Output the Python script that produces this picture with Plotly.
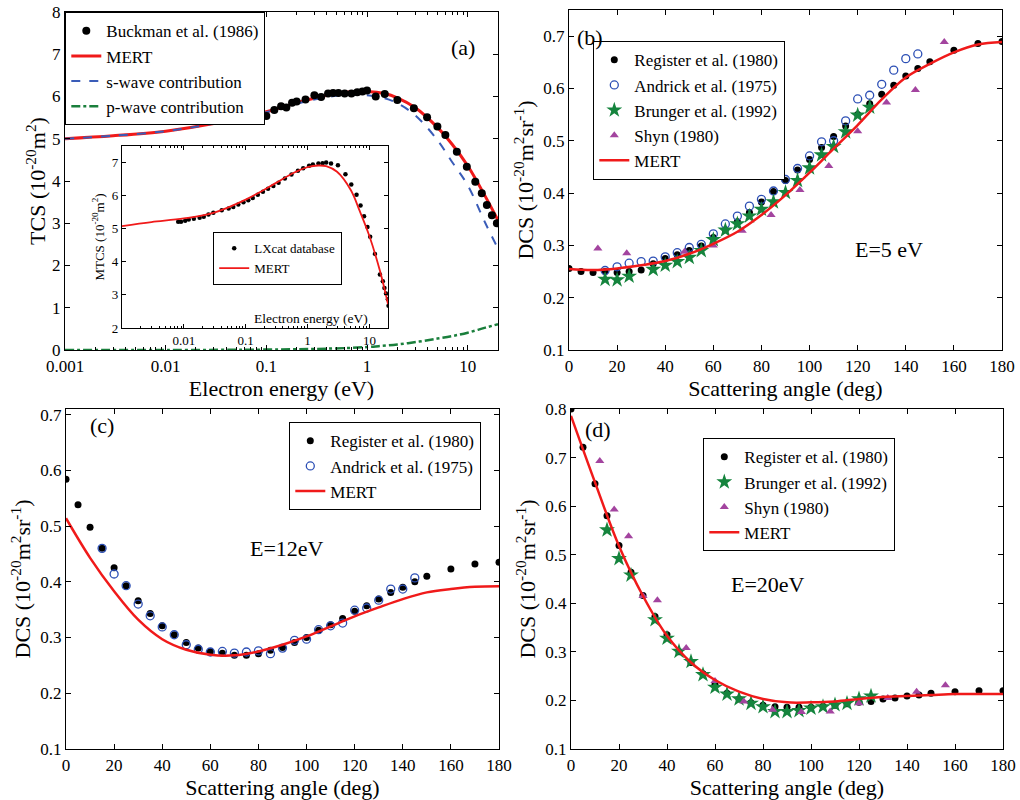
import plotly.graph_objects as go

# ---------------- Data ----------------
# (a) main: total cross section
buckman_E = [0.1, 0.12, 0.14, 0.158, 0.18, 0.2, 0.245, 0.30, 0.35, 0.41, 0.46, 0.52, 0.6, 0.7, 0.8, 0.9, 1.0,
             1.22, 1.5, 2.0, 2.92, 3.95, 5.0, 6.0, 7.8, 9.8, 11.9, 13.8, 15.5, 17.4, 19.5]
buckman_tcs = [5.54, 5.68, 5.77, 5.74, 5.85, 5.88, 5.93, 6.03, 5.99, 6.07, 6.08, 6.08, 6.07, 6.07, 6.1, 6.12, 6.14,
               6.0, 6.06, 5.92, 5.72, 5.51, 5.29, 5.09, 4.69, 4.34, 3.98, 3.71, 3.43, 3.19, 3.0]
curve_E = [0.001, 0.003, 0.01, 0.03, 0.1, 0.2, 0.3, 0.5, 0.7, 1.0, 1.5, 2, 3, 5, 7, 10, 15, 20]
mert_tcs = [5.0, 5.07, 5.18, 5.36, 5.64, 5.85, 5.96, 6.07, 6.11, 6.12, 6.07, 5.97, 5.74, 5.27, 4.87, 4.36, 3.63, 3.07]
swave_tcs = [5.0, 5.07, 5.18, 5.36, 5.63, 5.83, 5.93, 6.02, 6.04, 6.03, 5.96, 5.84, 5.56, 4.97, 4.45, 3.9, 3.0, 2.4]
pwave_E = [0.001, 0.01, 0.1, 0.3, 0.6, 1, 1.3, 2, 3.3, 5, 7, 10, 15, 20]
pwave_tcs = [0.0, 0.0, 0.01, 0.025, 0.045, 0.07, 0.09, 0.13, 0.2, 0.27, 0.33, 0.41, 0.53, 0.61]

# (a) inset: momentum transfer cross section
lx_E = [0.0081, 0.009, 0.0105, 0.012, 0.0145, 0.018, 0.021, 0.025, 0.030, 0.041, 0.053, 0.063, 0.076, 0.092,
        0.11, 0.13, 0.157, 0.19, 0.23, 0.28, 0.34, 0.43, 0.55, 0.7, 0.85, 1.06, 1.22, 1.5, 1.75, 2.0, 2.4,
        3.1, 4.1, 5.1, 6.2, 7.2, 8.2, 9.3, 10.3, 12.3, 14.8, 16.5, 17.5, 18.6, 19.9, 20.4]
lx_mtcs = [5.21, 5.21, 5.24, 5.28, 5.3, 5.33, 5.36, 5.43, 5.48, 5.56, 5.61, 5.66, 5.73, 5.8, 5.86, 5.93, 6.03,
           6.12, 6.21, 6.29, 6.39, 6.52, 6.64, 6.75, 6.83, 6.9, 6.94, 6.97, 6.98, 7.0, 6.97, 6.92, 6.65,
           6.34, 6.03, 5.7, 5.38, 5.05, 4.76, 4.24, 3.62, 3.41, 3.21, 3.04, 2.87, 2.67]
inset_E = [0.001, 0.003, 0.01, 0.03, 0.1, 0.3, 0.6, 1, 1.5, 2, 3, 5, 7, 10, 15, 20]
inset_mert = [5.08, 5.2, 5.31, 5.48, 5.88, 6.37, 6.69, 6.86, 6.91, 6.89, 6.72, 6.17, 5.53, 4.78, 3.69, 2.72]

# (b) E = 5 eV
b_reg_ang = [0, 5, 10, 15, 20, 25, 30, 35, 40, 45, 50, 55, 60, 65, 70, 75, 80, 85, 90, 95, 100, 105, 110,
             115, 120, 125, 130, 135, 140, 145, 150, 160, 170, 180]
b_reg = [0.256, 0.250, 0.248, 0.250, 0.248, 0.250, 0.253, 0.265, 0.275, 0.282, 0.290, 0.299, 0.315, 0.330,
         0.345, 0.363, 0.383, 0.403, 0.424, 0.444, 0.464, 0.487, 0.508, 0.528, 0.550, 0.571, 0.589, 0.606,
         0.624, 0.638, 0.651, 0.673, 0.686, 0.690]
b_and_ang = [15, 20, 25, 30, 35, 40, 45, 50, 55, 60, 65, 70, 75, 80, 85, 90, 95, 100, 105, 110, 115, 120,
             125, 130, 135, 140, 145]
b_and = [0.252, 0.259, 0.266, 0.269, 0.270, 0.278, 0.286, 0.296, 0.302, 0.322, 0.341, 0.356, 0.375, 0.388,
         0.404, 0.426, 0.447, 0.471, 0.498, 0.500, 0.538, 0.580, 0.587, 0.608, 0.635, 0.657, 0.666]
b_bru_ang = [15, 20, 25, 35, 40, 45, 50, 55, 60, 65, 70, 75, 80, 85, 90, 95, 100, 105, 110, 115, 120, 125]
b_bru = [0.235, 0.234, 0.241, 0.254, 0.262, 0.269, 0.277, 0.290, 0.311, 0.329, 0.341, 0.356, 0.369, 0.383,
         0.401, 0.424, 0.448, 0.473, 0.489, 0.517, 0.549, 0.564]
b_shyn_ang = [12, 24, 48, 60, 72, 84, 96, 108, 120, 132, 144, 156]
b_shyn = [0.294, 0.285, 0.288, 0.300, 0.328, 0.358, 0.406, 0.452, 0.518, 0.573, 0.597, 0.689]
b_mert_ang = [0, 10, 20, 30, 40, 50, 60, 70, 80, 90, 100, 110, 120, 130, 140, 150, 160, 170, 180]
b_mert = [0.255, 0.253, 0.256, 0.262, 0.270, 0.284, 0.303, 0.326, 0.358, 0.396, 0.439, 0.485, 0.530, 0.579,
          0.621, 0.647, 0.669, 0.684, 0.689]

# (c) E = 12 eV
c_reg_ang = [0, 5, 10, 15, 20, 25, 30, 35, 40, 45, 50, 55, 60, 65, 70, 75, 80, 85, 90, 95, 100, 105, 110,
             115, 120, 125, 130, 135, 140, 145, 150, 160, 170, 180]
c_reg = [0.584, 0.538, 0.498, 0.460, 0.425, 0.393, 0.366, 0.343, 0.321, 0.305, 0.291, 0.281, 0.275, 0.272,
         0.268, 0.268, 0.271, 0.277, 0.282, 0.291, 0.300, 0.313, 0.323, 0.334, 0.347, 0.357, 0.369, 0.381,
         0.390, 0.400, 0.410, 0.423, 0.432, 0.435]
c_and_ang = [15, 20, 25, 30, 35, 40, 45, 50, 55, 60, 65, 70, 75, 80, 85, 90, 95, 100, 105, 110, 115, 120,
             125, 130, 135, 140, 145]
c_and = [0.460, 0.414, 0.393, 0.360, 0.339, 0.319, 0.305, 0.287, 0.279, 0.274, 0.275, 0.272, 0.274, 0.276,
         0.271, 0.281, 0.295, 0.297, 0.314, 0.321, 0.326, 0.349, 0.353, 0.367, 0.387, 0.387, 0.407]
c_mert_ang = [0, 10, 20, 30, 40, 50, 60, 70, 80, 90, 100, 110, 120, 130, 140, 150, 160, 170, 180]
c_mert = [0.514, 0.443, 0.383, 0.332, 0.297, 0.278, 0.269, 0.268, 0.275, 0.287, 0.302, 0.320, 0.338, 0.354,
          0.369, 0.381, 0.387, 0.391, 0.392]

# (d) E = 20 eV
d_reg_ang = [0, 5, 10, 15, 20, 25, 30, 35, 40, 45, 50, 55, 60, 65, 70, 75, 80, 85, 90, 95, 100, 105, 110,
             115, 120, 125, 130, 135, 140, 145, 150, 160, 170, 180]
d_reg = [0.800, 0.721, 0.646, 0.580, 0.519, 0.464, 0.416, 0.373, 0.335, 0.300, 0.278, 0.255, 0.233, 0.215,
         0.203, 0.195, 0.190, 0.187, 0.186, 0.186, 0.186, 0.188, 0.190, 0.193, 0.196, 0.198, 0.203, 0.205,
         0.209, 0.211, 0.215, 0.218, 0.220, 0.220]
d_bru_ang = [15, 20, 25, 35, 40, 45, 50, 55, 60, 65, 70, 75, 80, 85, 90, 95, 100, 105, 110, 115, 120, 125]
d_bru = [0.551, 0.492, 0.458, 0.366, 0.328, 0.301, 0.280, 0.253, 0.227, 0.213, 0.203, 0.194, 0.187, 0.177,
         0.177, 0.179, 0.184, 0.187, 0.191, 0.194, 0.203, 0.209]
d_shyn_ang = [12, 18, 24, 30, 36, 48, 60, 72, 84, 96, 108, 120, 132, 144, 156]
d_shyn = [0.693, 0.593, 0.538, 0.415, 0.406, 0.308, 0.240, 0.198, 0.181, 0.176, 0.177, 0.194, 0.205, 0.218, 0.231]
d_mert_ang = [0, 10, 20, 30, 40, 50, 60, 70, 80, 90, 100, 110, 120, 130, 140, 150, 160, 170, 180]
d_mert = [0.786, 0.649, 0.518, 0.415, 0.333, 0.278, 0.242, 0.218, 0.203, 0.196, 0.196, 0.198, 0.203, 0.207,
          0.209, 0.211, 0.213, 0.213, 0.213]

decade_vals = [0.001, 0.01, 0.1, 1, 10]
decade_text = ["0.001", "0.01", "0.1", "1", "10"]
angle_ticks = [0, 20, 40, 60, 80, 100, 120, 140, 160, 180]

# ---------------- Styles ----------------
FONT = "Liberation Serif, Times New Roman, serif"
RED = "#f01a1a"
BLUE = "#2c4fb5"
DBLUE = "#3a5cb8"
GREEN = "#15843d"
DGREEN = "#1a7f3c"
PURPLE = "#a3449f"

fig = go.Figure()

# ---- (a) main ----
fig.add_trace(go.Scatter(x=curve_E, y=mert_tcs, mode="lines", name="MERT", line=dict(color=RED, width=3, shape="spline"),
                         xaxis="x", yaxis="y", legend="legend", legendrank=2))
fig.add_trace(go.Scatter(x=curve_E, y=swave_tcs, mode="lines", name="s-wave contribution",
                         line=dict(color=DBLUE, width=2, dash="dash", shape="spline"),
                         xaxis="x", yaxis="y", legend="legend", legendrank=3))
fig.add_trace(go.Scatter(x=pwave_E, y=pwave_tcs, mode="lines", name="p-wave contribution",
                         line=dict(color=DGREEN, width=2.5, dash="dashdot", shape="spline"),
                         xaxis="x", yaxis="y", legend="legend", legendrank=4))
fig.add_trace(go.Scatter(x=buckman_E, y=buckman_tcs, mode="markers", name="Buckman et al. (1986)",
                         marker=dict(color="black", size=8),
                         xaxis="x", yaxis="y", legend="legend", legendrank=1))

# ---- (a) inset ----
fig.add_trace(go.Scatter(x=lx_E, y=lx_mtcs, mode="markers", name="LXcat database",
                         marker=dict(color="black", size=4.5),
                         xaxis="x5", yaxis="y5", legend="legend2"))
fig.add_trace(go.Scatter(x=inset_E, y=inset_mert, mode="lines", name="MERT",
                         line=dict(color=RED, width=1.8, shape="spline"),
                         xaxis="x5", yaxis="y5", legend="legend2"))

# ---- (b) ----
fig.add_trace(go.Scatter(x=b_reg_ang, y=b_reg, mode="markers", name="Register et al. (1980)",
                         marker=dict(color="black", size=7), xaxis="x2", yaxis="y2", legend="legend3"))
fig.add_trace(go.Scatter(x=b_and_ang, y=b_and, mode="markers", name="Andrick et al. (1975)",
                         marker=dict(color=BLUE, size=8, symbol="circle-open", line=dict(width=1.3)),
                         xaxis="x2", yaxis="y2", legend="legend3"))
fig.add_trace(go.Scatter(x=b_bru_ang, y=b_bru, mode="markers", name="Brunger et al. (1992)",
                         marker=dict(color=GREEN, size=12, symbol="star"), xaxis="x2", yaxis="y2", legend="legend3"))
fig.add_trace(go.Scatter(x=b_shyn_ang, y=b_shyn, mode="markers", name="Shyn (1980)",
                         marker=dict(color=PURPLE, size=8, symbol="triangle-up"), xaxis="x2", yaxis="y2", legend="legend3"))
fig.add_trace(go.Scatter(x=b_mert_ang, y=b_mert, mode="lines", name="MERT",
                         line=dict(color=RED, width=2.5, shape="spline"), xaxis="x2", yaxis="y2", legend="legend3"))

# ---- (c) ----
fig.add_trace(go.Scatter(x=c_reg_ang, y=c_reg, mode="markers", name="Register et al. (1980)",
                         marker=dict(color="black", size=7), xaxis="x3", yaxis="y3", legend="legend4"))
fig.add_trace(go.Scatter(x=c_and_ang, y=c_and, mode="markers", name="Andrick et al. (1975)",
                         marker=dict(color=BLUE, size=8, symbol="circle-open", line=dict(width=1.3)),
                         xaxis="x3", yaxis="y3", legend="legend4"))
fig.add_trace(go.Scatter(x=c_mert_ang, y=c_mert, mode="lines", name="MERT",
                         line=dict(color=RED, width=2.5, shape="spline"), xaxis="x3", yaxis="y3", legend="legend4"))

# ---- (d) ----
fig.add_trace(go.Scatter(x=d_reg_ang, y=d_reg, mode="markers", name="Register et al. (1980)",
                         marker=dict(color="black", size=7), xaxis="x4", yaxis="y4", legend="legend5"))
fig.add_trace(go.Scatter(x=d_bru_ang, y=d_bru, mode="markers", name="Brunger et al. (1992)",
                         marker=dict(color=GREEN, size=12, symbol="star"), xaxis="x4", yaxis="y4", legend="legend5"))
fig.add_trace(go.Scatter(x=d_shyn_ang, y=d_shyn, mode="markers", name="Shyn (1980)",
                         marker=dict(color=PURPLE, size=8, symbol="triangle-up"), xaxis="x4", yaxis="y4", legend="legend5"))
fig.add_trace(go.Scatter(x=d_mert_ang, y=d_mert, mode="lines", name="MERT",
                         line=dict(color=RED, width=2.5, shape="spline"), xaxis="x4", yaxis="y4", legend="legend5"))

W, H = 1020, 800


def px(x0, x1):
    return [x0 / W, x1 / W]


def py(top, bottom):
    return [1 - bottom / H, 1 - top / H]


common = dict(showline=True, linecolor="black", linewidth=1.3, mirror="allticks", ticks="inside",
              ticklen=5, tickcolor="black", showgrid=False, zeroline=False, automargin=False,
              tickfont=dict(family=FONT, size=17, color="black"))

title_font = dict(family=FONT, size=22, color="black")
small_title = dict(family=FONT, size=13, color="black")

minor_log = [m * 10 ** k for k in range(-3, 2) for m in range(2, 10) if m * 10 ** k <= 20]

lay = dict(
    width=W, height=H, margin=dict(l=0, r=0, t=0, b=0),
    paper_bgcolor="white", plot_bgcolor="white",
    font=dict(family=FONT, color="black"),
    # (a)
    xaxis=dict(common, type="log", domain=px(65, 498), range=[-3, 1.301], anchor="y",
               tickmode="array", tickvals=decade_vals, ticktext=decade_text,
               minor=dict(tickvals=minor_log, ticks="inside", ticklen=3, tickcolor="black", showgrid=False),
               title=dict(text="Electron energy (eV)", font=title_font, standoff=2)),
    yaxis=dict(common, domain=py(12, 350), range=[0, 8], dtick=1, anchor="x",
               title=dict(text="TCS (10<sup>-20</sup>m<sup>2</sup>)", font=title_font, standoff=0)),
    # (b)
    xaxis2=dict(common, domain=px(569, 1002), range=[0, 180], tickvals=angle_ticks, anchor="y2",
                title=dict(text="Scattering angle (deg)", font=title_font, standoff=2)),
    yaxis2=dict(common, domain=py(10, 350), range=[0.1, 0.75], dtick=0.1, anchor="x2",
                title=dict(text="DCS (10<sup>-20</sup>m<sup>2</sup>sr<sup>-1</sup>)", font=title_font, standoff=3)),
    # (c)
    xaxis3=dict(common, domain=px(66, 499), range=[0, 180], tickvals=angle_ticks, anchor="y3",
                title=dict(text="Scattering angle (deg)", font=title_font, standoff=2)),
    yaxis3=dict(common, domain=py(409, 749), range=[0.1, 0.71], dtick=0.1, anchor="x3",
                title=dict(text="DCS (10<sup>-20</sup>m<sup>2</sup>sr<sup>-1</sup>)", font=title_font, standoff=3)),
    # (d)
    xaxis4=dict(common, domain=px(571, 1003), range=[0, 180], tickvals=angle_ticks, anchor="y4",
                title=dict(text="Scattering angle (deg)", font=title_font, standoff=2)),
    yaxis4=dict(common, domain=py(409, 749), range=[0.1, 0.8], dtick=0.1, anchor="x4",
                title=dict(text="DCS (10<sup>-20</sup>m<sup>2</sup>sr<sup>-1</sup>)", font=title_font, standoff=3)),
    # inset
    xaxis5=dict(common, type="log", domain=px(122, 388), range=[-3, 1.301], anchor="y5",
                tickmode="array", tickvals=decade_vals[1:], ticktext=decade_text[1:], ticklen=4,
                minor=dict(tickvals=minor_log, ticks="inside", ticklen=2, tickcolor="black", showgrid=False),
                tickfont=dict(family=FONT, size=13, color="black")),
    yaxis5=dict(common, domain=py(146, 328), range=[2, 7.5], dtick=1, anchor="x5", ticklen=4,
                tickfont=dict(family=FONT, size=13, color="black"),
                title=dict(text="MTCS (10<sup>-20</sup>m<sup>2</sup>)", font=small_title, standoff=4)),
    showlegend=True,
)

leg_common = dict(bgcolor="white", bordercolor="black", borderwidth=1.3, xanchor="left", yanchor="top",
                  tracegroupgap=0, itemwidth=30, font=dict(family=FONT, size=17, color="black"))
lay["legend"] = dict(leg_common, x=65 / W, y=1 - 12 / H)
lay["legend2"] = dict(leg_common, x=213 / W, y=1 - 232 / H, font=dict(family=FONT, size=13, color="black"),
                      borderwidth=1.2)
lay["legend3"] = dict(leg_common, x=593 / W, y=1 - 41 / H)
lay["legend4"] = dict(leg_common, x=289 / W, y=1 - 422 / H)
lay["legend5"] = dict(leg_common, x=703 / W, y=1 - 438 / H)

ann_font = dict(family=FONT, size=22, color="black")
lay["annotations"] = [
    dict(text="(a)", x=463 / W, y=1 - 33 / H, xref="paper", yref="paper", showarrow=False, font=ann_font),
    dict(text="(b)", x=590 / W, y=1 - 23 / H, xref="paper", yref="paper", showarrow=False, font=ann_font),
    dict(text="(c)", x=88 / W, y=1 - 425 / H, xref="paper", yref="paper", showarrow=False, font=ann_font),
    dict(text="(d)", x=598 / W, y=1 - 429 / H, xref="paper", yref="paper", showarrow=False, font=ann_font),
    dict(text="E=5 eV", x=925 / W, y=1 - 235 / H, xref="paper", yref="paper", showarrow=False, font=ann_font),
    dict(text="E=12eV", x=248 / W, y=1 - 563 / H, xref="paper", yref="paper", showarrow=False, font=ann_font),
    dict(text="E=20eV", x=807 / W, y=1 - 599 / H, xref="paper", yref="paper", showarrow=False, font=ann_font),
    dict(text="Electron energy (eV)", x=252 / W, y=1 - 318 / H, xref="paper", yref="paper", showarrow=False,
         font=dict(family=FONT, size=13.5, color="black")),
]

fig.update_layout(**lay)
fig.write_html("out.html", config={"displayModeBar": False},
               post_script="document.body.style.margin='0px';")
